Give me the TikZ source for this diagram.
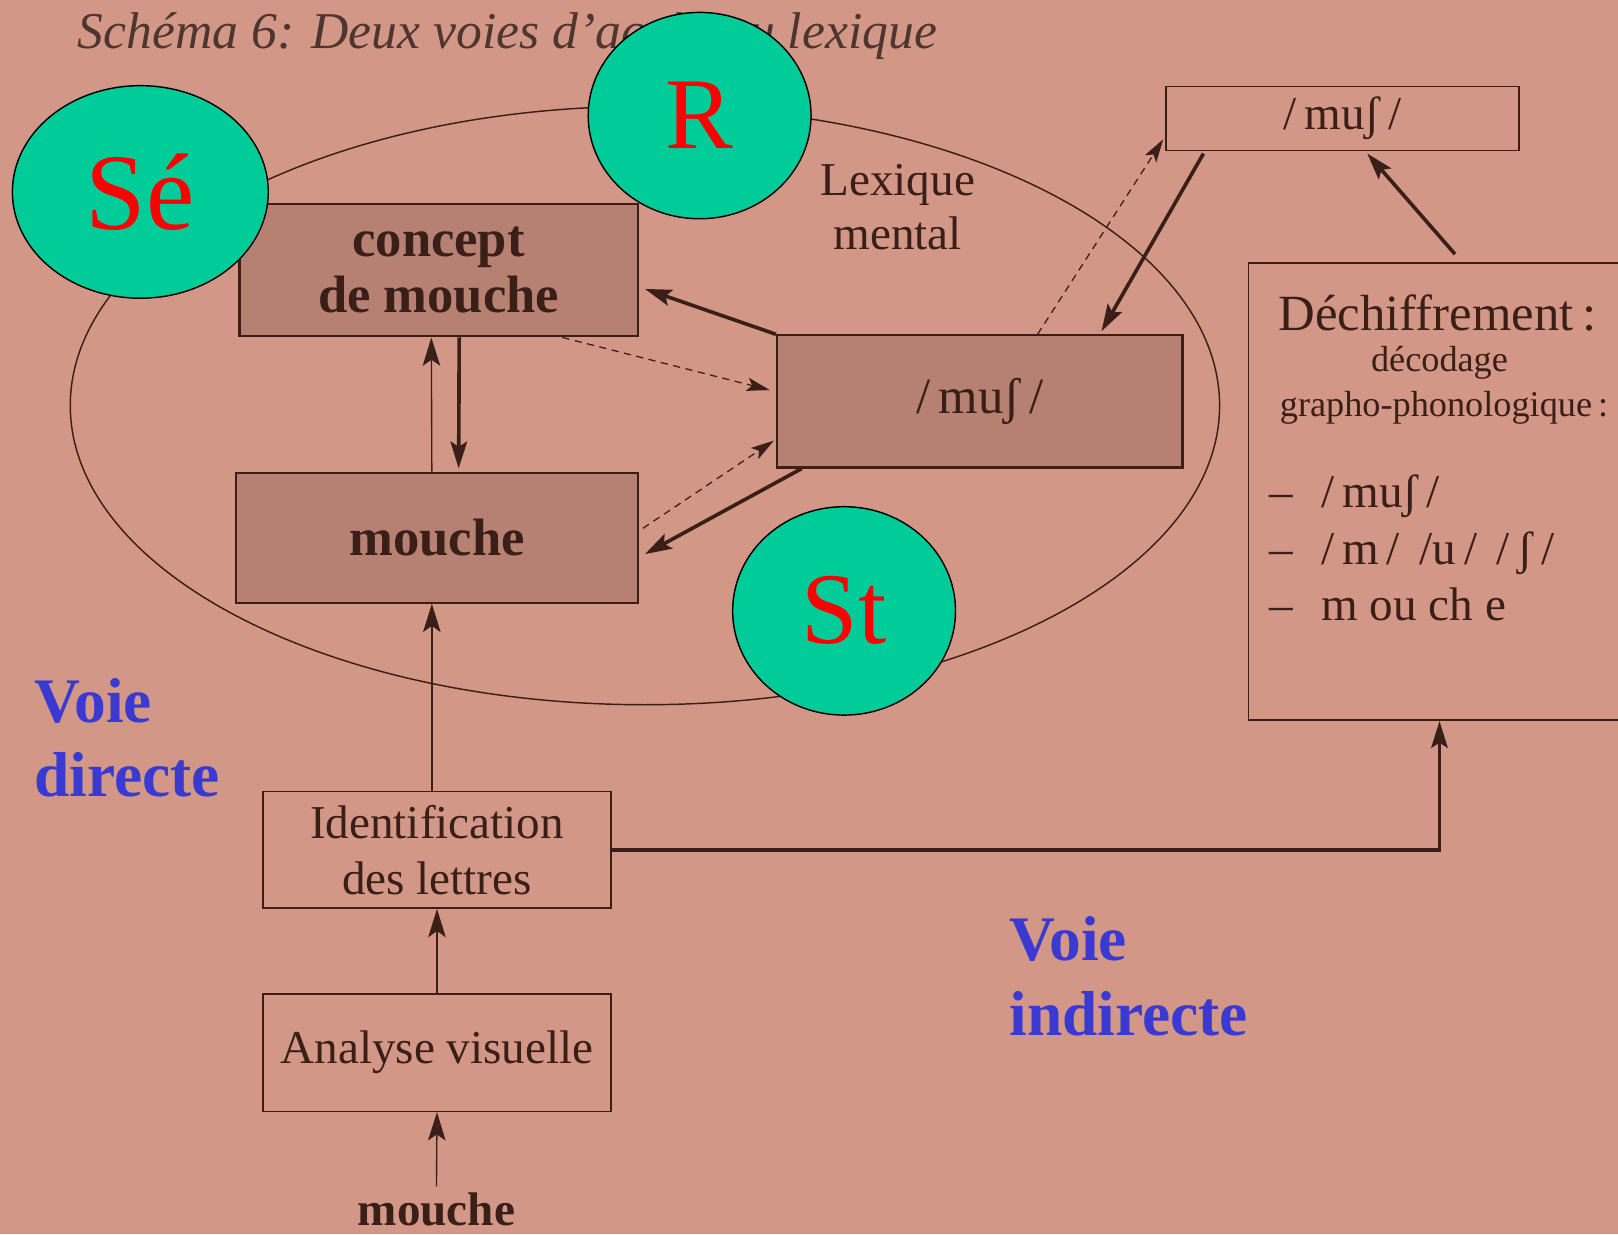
\documentclass[tikz,border=0pt]{standalone}
\usepackage{fontspec}
\setmainfont{Liberation Serif}
\usetikzlibrary{arrows.meta,positioning,shapes.geometric,calc}
\definecolor{fondpage}{RGB}{211,151,135}
\definecolor{encre}{RGB}{58,30,24}
\definecolor{grisbloc}{RGB}{182,128,114}
\definecolor{vertpastille}{RGB}{0,204,153}
\definecolor{bleuvoie}{RGB}{58,58,210}
\tikzset{
  blocgris/.style={draw=encre, fill=grisbloc, line width=1.2pt, align=center, text=encre, inner sep=0pt},
  cadre/.style={draw=encre, line width=0.9pt, align=center, text=encre, inner sep=0pt},
  pastille/.style={ellipse, draw=black, line width=0.8pt, fill=vertpastille, text=red, inner sep=0pt, font=\fontsize{56}{60}\selectfont},
  voie/.style={text=bleuvoie, align=left, anchor=north west, inner sep=0pt, font=\fontsize{35}{41}\selectfont\bfseries},
  fort/.style={-{Stealth[length=0.52cm,width=0.32cm,inset=0.1cm]}, line width=2pt, encre},
  fin/.style={-{Stealth[length=0.55cm,width=0.34cm,inset=0.12cm]}, line width=0.75pt, encre},
  pointille/.style={-{Stealth[length=0.45cm,width=0.26cm,inset=0.1cm]}, line width=0.7pt, encre, dash pattern=on 4pt off 3pt}
}
\begin{document}
\begin{tikzpicture}[x=0.02cm, y=-0.02cm]
  %% page
  \fill[fondpage] (0,0) rectangle (1568,1196);
  \useasboundingbox (0,0) rectangle (1568,1196);
  \clip (0,0) rectangle (1568,1196);
  \node[anchor=base west, inner sep=0pt, text=encre!90, font=\itshape\fontsize{28.5}{30}\selectfont] (titre) at (75,47) {Schéma 6: Deux voies d’accès au lexique};

  %% Lexique mental
  \draw[encre, line width=0.8pt] (625,393) ellipse [x radius=11.14cm, y radius=5.8cm];
  \node[align=center, text=encre, font=\fontsize{26}{30}\selectfont] (lexique) at (870,201) {Lexique\\mental};
  \node[blocgris, minimum width=7.72cm, minimum height=2.56cm, font=\fontsize{29}{31}\selectfont\bfseries] (concept) at (425,262) {concept\\de mouche};
  \node[blocgris, minimum width=7.78cm, minimum height=2.52cm, font=\fontsize{29}{31}\selectfont\bfseries] (mouchebox) at (423.5,521) {mouche};
  \node[blocgris, minimum width=7.86cm, minimum height=2.56cm, font=\fontsize{28}{31}\selectfont] (mushbox) at (949.5,389) {/\,muʃ\,/};

  %% voie directe
  \node[cadre, minimum width=6.74cm, minimum height=2.26cm, font=\fontsize{26}{31}\selectfont] (ident) at (423.5,823.5) {Identification\\des lettres};
  \node[cadre, minimum width=6.74cm, minimum height=2.28cm, font=\fontsize{26}{31}\selectfont] (analyse) at (423.5,1020) {Analyse visuelle};
  \node[text=encre, font=\fontsize{26}{30}\selectfont\bfseries] (motlu) at (423,1172) {mouche};

  %% voie indirecte
  \node[cadre, minimum width=6.84cm, minimum height=1.24cm, font=\fontsize{26}{30}\selectfont] (topbox) at (1301,115) {/\,muʃ\,/};
  \node[cadre, minimum width=7.4cm, minimum height=8.86cm] (dechif) at (1395,476.5) {};
  \node[text=encre, font=\fontsize{28}{30}\selectfont] (dechtitre) at (1393,303) {Déchiffrement\,:};
  \node[text=encre, font=\fontsize{20}{24}\selectfont] (decodage) at (1395,352) {décodage};
  \node[anchor=west, inner sep=0pt, text=encre, font=\fontsize{20}{24}\selectfont] (grapho) at (1240,395) {grapho-phonologique\,:};
  \node[anchor=west, inner sep=0pt, align=left, text=encre, font=\fontsize{26}{31}\selectfont] (liste) at (1230,531)
    {–\hspace{0.6em}/\,muʃ\,/\\–\hspace{0.6em}/\,m\,/ \,/u\,/ \,/\,ʃ\,/\\–\hspace{0.6em}m ou ch e};

  %% connecteurs
  \draw[fin] (motlu.north) -- (analyse.south);
  \draw[fin] (analyse.north) -- (ident.south);
  \draw[fin] ($(ident.north)+(-5,0)$) -- ($(mouchebox.south)+(-5,0)$);
  \draw[fin] ($(mouchebox.north)+(-5,0)$) -- ($(concept.south)+(-7,0)$);
  \draw[fort] ($(concept.south)+(20,0)$) -- ($(mouchebox.north)+(21,-3)$);
  \draw[fort] (mushbox.north west) -- ($(concept.east)+(6,18)$);
  \draw[pointille] ($(concept.south)+(120,0)$) -- ($(mushbox.west)+(-6,-11)$);
  \draw[pointille] ($(mouchebox.east)+(4,-9)$) -- ($(mushbox.west)+(-2,38)$);
  \draw[fort] ($(mushbox.south west)+(25,0)$) -- ($(mouchebox.east)+(6,16)$);
  \draw[pointille] ($(mushbox.north)+(56,0)$) -- ($(topbox.west)+(-2,20)$);
  \draw[fort] ($(topbox.south west)+(37,2)$) -- ($(mushbox.north)+(118,-3)$);
  \draw[fort] ($(dechif.north)+(15,-8)$) -- ($(topbox.south)+(24,2)$);
  \draw[fort] (ident.east) -| (dechif.south);

  %% pastilles
  \node[pastille, minimum width=4.96cm, minimum height=4.12cm, font=\fontsize{60}{60}\selectfont] (se) at (136,186) {Sé};
  \node[pastille, minimum width=4.32cm, minimum height=4.0cm] (r) at (678,112) {R};
  \node[pastille, minimum width=4.32cm, minimum height=4.04cm] (st) at (818,592) {St};

  %% voies
  \node[voie] (directe) at (33,657) {Voie\\directe};
  \node[voie] (indirecte) at (978,888) {Voie\\indirecte};
\end{tikzpicture}
\end{document}
